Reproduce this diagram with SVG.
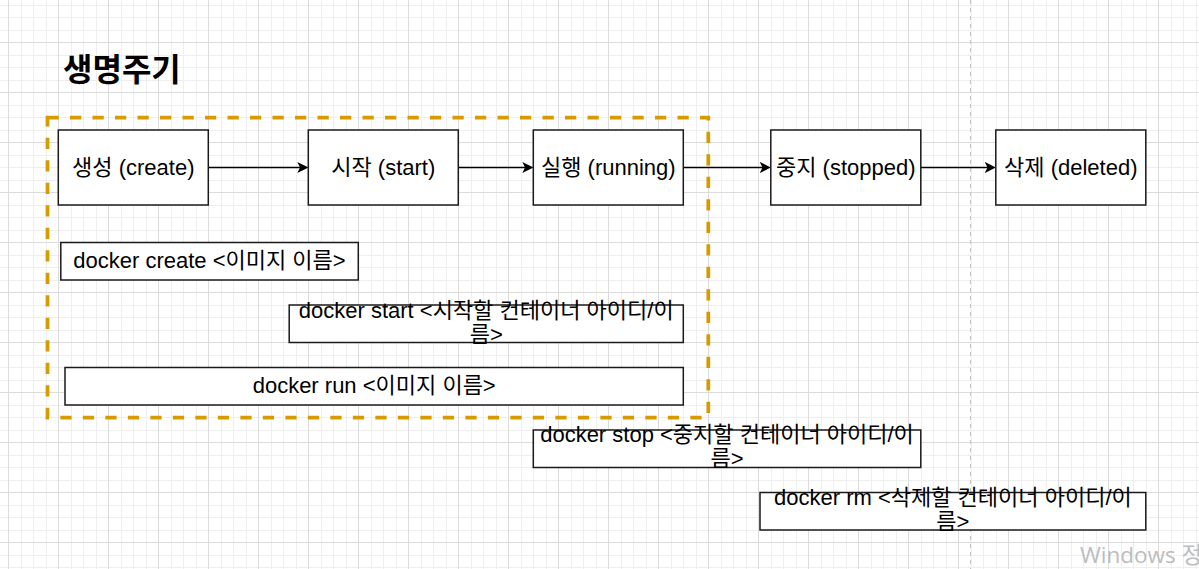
<svg xmlns="http://www.w3.org/2000/svg" width="1199" height="569" viewBox="0 0 1199 569">
  <defs>
    <pattern id="grid" x="8" y="-8" width="50" height="50" patternUnits="userSpaceOnUse">
      <rect width="50" height="50" fill="#ffffff"/>
      <g fill="#efefef">
        <rect x="13" y="0" width="1" height="50"/>
        <rect x="25" y="0" width="1" height="50"/>
        <rect x="38" y="0" width="1" height="50"/>
        <rect x="0" y="13" width="50" height="1"/>
        <rect x="0" y="25" width="50" height="1"/>
        <rect x="0" y="38" width="50" height="1"/>
      </g>
      <g fill="#dcdcdc">
        <rect x="0" y="0" width="1" height="50"/>
        <rect x="0" y="0" width="50" height="1"/>
      </g>
    </pattern>
    <marker id="arr" viewBox="0 0 11 11" refX="7" refY="5.5" markerWidth="11" markerHeight="11" orient="auto" markerUnits="userSpaceOnUse">
      <path d="M0,0 L11,5.5 L0,11 L2.75,5.5 Z" fill="#000000"/>
    </marker>
    <style>
      .box { fill: #ffffff; stroke: #1a1a1a; stroke-width: 1.5; }
      .lbl { font-family: "Liberation Sans", "Noto Sans CJK KR", sans-serif; font-size: 22px; fill: #000000; text-anchor: middle; }
      .edge { stroke: #000000; stroke-width: 1.4; fill: none; marker-end: url(#arr); }
      .group { fill: none; stroke: #d79b00; stroke-width: 3.75; stroke-dasharray: 11.25 11.25; }
    </style>
  </defs>

  <rect x="0" y="0" width="1199" height="569" fill="url(#grid)"/>
  <line x1="970.5" y1="0" x2="970.5" y2="569" stroke="#c4c4c4" stroke-width="1" stroke-dasharray="4 4"/>

  <g id="title">
    <text x="63" y="80.5" font-family="Liberation Sans, 'Noto Sans CJK KR', sans-serif" font-size="32" font-weight="bold" fill="#000000">생명주기</text>
  </g>

  <g id="group-box">
    <rect class="group" x="47.5" y="117.5" width="660.8" height="300"/>
  </g>

  <g id="connectors">
    <line class="edge" x1="208.3" y1="167.5" x2="304.3" y2="167.5"/>
    <line class="edge" x1="458.3" y1="167.5" x2="529.3" y2="167.5"/>
    <line class="edge" x1="683.3" y1="167.5" x2="766.8" y2="167.5"/>
    <line class="edge" x1="920.8" y1="167.5" x2="991.8" y2="167.5"/>
  </g>

  <g id="create">
    <rect class="box" x="58.3" y="130" width="150" height="75"/>
    <text class="lbl" x="133.3" y="174.8">생성 (create)</text>
  </g>
  <g id="start">
    <rect class="box" x="308.3" y="130" width="150" height="75"/>
    <text class="lbl" x="383.3" y="174.8">시작 (start)</text>
  </g>
  <g id="running">
    <rect class="box" x="533.3" y="130" width="150" height="75"/>
    <text class="lbl" x="608.3" y="174.8">실행 (running)</text>
  </g>
  <g id="stopped">
    <rect class="box" x="770.8" y="130" width="150" height="75"/>
    <text class="lbl" x="845.8" y="174.8">중지 (stopped)</text>
  </g>
  <g id="deleted">
    <rect class="box" x="995.8" y="130" width="150" height="75"/>
    <text class="lbl" x="1070.8" y="174.8">삭제 (deleted)</text>
  </g>

  <g id="cmd-create">
    <rect class="box" x="60.8" y="242.5" width="297.5" height="37.5"/>
    <text class="lbl" x="209.5" y="268.3">docker create &lt;이미지 이름&gt;</text>
  </g>
  <g id="cmd-start">
    <rect class="box" x="289.2" y="305" width="394.1" height="37.5"/>
    <text class="lbl" x="486.2" y="317.5">docker start &lt;시작할 컨테이너 아이디/이<tspan x="486.2" dy="24">름&gt;</tspan></text>
  </g>
  <g id="cmd-run">
    <rect class="box" x="65" y="367.5" width="618.3" height="37.5"/>
    <text class="lbl" x="374.2" y="393.3">docker run &lt;이미지 이름&gt;</text>
  </g>
  <g id="cmd-stop">
    <rect class="box" x="533.3" y="430" width="387.5" height="37.5"/>
    <text class="lbl" x="727" y="442">docker stop &lt;중지할 컨테이너 아이디/이<tspan x="727" dy="24">름&gt;</tspan></text>
  </g>
  <g id="cmd-rm">
    <rect class="box" x="760" y="492.5" width="385.8" height="37.5"/>
    <text class="lbl" x="952.9" y="504.5">docker rm &lt;삭제할 컨테이너 아이디/이<tspan x="952.9" dy="24">름&gt;</tspan></text>
  </g>

  <text x="1080" y="562.5" font-family="'Open Sans', 'Noto Sans CJK KR', sans-serif" font-size="22.5" fill="#bdbdbd">Windows 정품 인증</text>
</svg>
